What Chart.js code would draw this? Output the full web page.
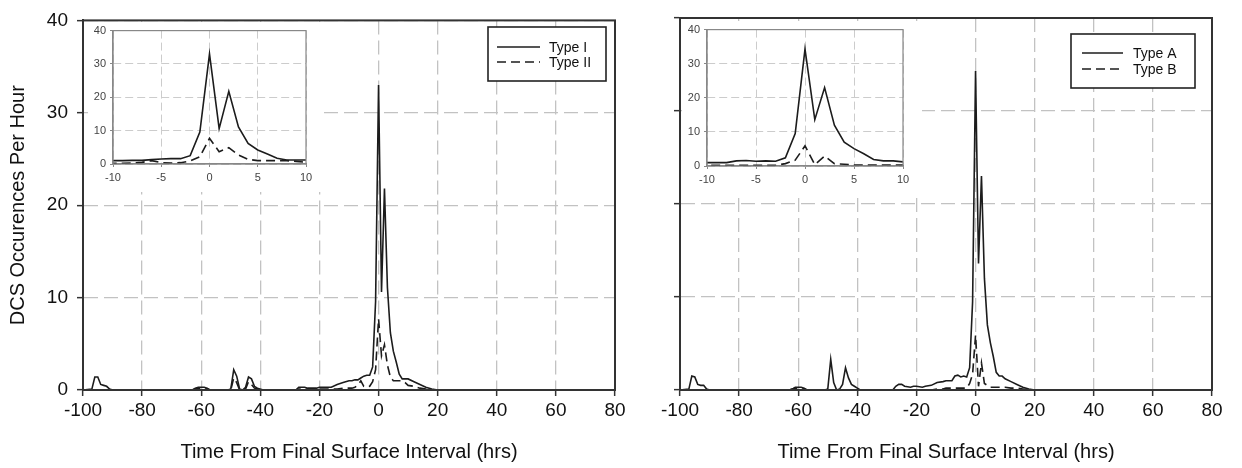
<!DOCTYPE html>
<html>
<head>
<meta charset="utf-8">
<script src="https://cdn.jsdelivr.net/npm/chart.js@4.4.1/dist/chart.umd.min.js"></script>
<style>
  html, body { margin: 0; padding: 0; background: #fff; }
  #wrap { position: relative; width: 1242px; height: 468px; overflow: hidden; }
  canvas { position: absolute; }
</style>
</head>
<body>
<div id="wrap">
  <canvas id="mainLeft" width="630" height="468" style="left:0;top:0;width:630px;height:468px"></canvas>
  <canvas id="mainRight" width="612" height="468" style="left:630px;top:0;width:612px;height:468px"></canvas>
  <canvas id="insetLeft" width="236" height="172" style="left:88px;top:20px;width:236px;height:172px"></canvas>
  <canvas id="insetRight" width="240" height="176" style="left:682px;top:19px;width:240px;height:176px"></canvas>
</div>
<script>
// hours from final surface interval (null = no data in that stretch)
const leftHours = [-100, -97, -96, -95, -94, -93, -92, -91, -90, -80, -68, -63, -62, -61, -60, -59, -58, -57,
  -51, -50, -49, -48, -47, -46, -45, -44, -43, -42, -41, -39, -36, -28, -27, -26, -25, -24, -21, -20, -19,
  -16, -14, -12, -10, -9, -8, -7, -6, -5, -4, -3, -2, -1, 0, 1, 2, 3, 4, 5, 6, 7, 8, 9, 10, 12, 14, 16, 18, 20, 30, 43];
const typeI = [0, 0.1, 1.4, 1.4, 0.6, 0.5, 0.4, 0.1, 0, null, 0, 0, 0.2, 0.3, 0.3, 0.3, 0.2, 0,
  0, 0.1, 2.2, 1.5, 0.1, 0, 0.3, 1.4, 1.2, 0.4, 0.2, 0, 0, 0, 0.3, 0.3, 0.3, 0.2, 0.2, 0.3, 0.3,
  0.3, 0.6, 0.8, 1.0, 1.0, 1.1, 1.1, 1.3, 1.5, 1.6, 1.6, 2.5, 9.6, 33, 10.6, 21.8, 11.1, 6.2, 4.2, 3.0, 1.7, 1.2, 1.2, 1.2, 0.9, 0.6, 0.3, 0.1, 0, 0, 0];
const typeII = [0, 0, 0, 0, 0, 0, 0, 0, 0, null, 0, 0, 0.1, 0.2, 0.2, 0.2, 0.1, 0,
  0, 0, 1.3, 0.8, 0, 0, 0.1, 0.9, 0.6, 0.2, 0.1, 0, 0, 0, 0.1, 0.1, 0.1, 0.1, 0.1, 0.1, 0.1,
  0.1, 0.1, 0.2, 0.2, 0.2, 0.3, 0.5, 1.0, 0.4, 0.3, 0.4, 0.9, 2.2, 7.7, 3.7, 4.9, 2.7, 1.4, 1.0, 1.0, 1.0, 1.0, 0.8, 0.5, 0.4, 0.2, 0.1, 0, 0, 0, 0];

const rightHours = [-100, -97, -96, -95, -94, -93, -92, -91, -90, -80, -68, -63, -62, -61, -60, -59, -58, -57,
  -51, -50, -49, -48, -47, -46, -45, -44, -43, -42, -41, -40, -39, -28, -27, -26, -25, -24, -22, -21, -20,
  -18, -17, -15, -13, -11, -10, -9, -8, -7, -6, -5, -4, -3, -2, -1, 0, 1, 2, 3, 4, 5, 6, 7, 8, 9, 10, 12, 14, 16, 18, 20, 30, 47];
const typeA = [0, 0.1, 1.5, 1.4, 0.6, 0.5, 0.5, 0.1, 0, null, 0, 0, 0.1, 0.3, 0.3, 0.3, 0.2, 0,
  0, 0.1, 3.3, 0.8, 0, 0.1, 0.6, 2.4, 1.3, 0.6, 0.4, 0.2, 0, 0, 0.4, 0.6, 0.6, 0.4, 0.3, 0.4, 0.4,
  0.3, 0.4, 0.5, 0.8, 0.9, 1.0, 1.0, 1.0, 1.5, 1.6, 1.4, 1.5, 1.4, 2.4, 9.5, 34.3, 13.6, 23, 12, 7, 5.1, 3.6, 1.9, 1.5, 1.5, 1.2, 0.9, 0.6, 0.3, 0.1, 0, 0, 0];
const typeB = [0, 0, 0, 0, 0, 0, 0, 0, 0, null, 0, 0, 0.1, 0.2, 0.2, 0.2, 0.1, 0,
  0, 0, 0, 0, 0, 0, 0, 0, 0, 0, 0, 0, 0, 0, 0, 0, 0, 0, 0, 0, 0,
  0, 0, 0, 0.1, 0.1, 0.2, 0.2, 0.2, 0.2, 0.2, 0.2, 0.2, 0.2, 0.7, 1.7, 5.9, 0.4, 2.9, 0.7, 0.5, 0.3, 0.3, 0.3, 0.3, 0.3, 0.3, 0.2, 0.2, 0.1, 0, 0, 0, 0];

const mainXTicks = { min: -100, max: 80, step: 20 };
const mainYTicks = { min: 0, max: 40, step: 10 };
const insetXTicks = { min: -10, max: 10, step: 5 };

Chart.defaults.font.family = "'Liberation Sans', Arial, sans-serif";

const INK = '#1c1c1c';

const points = (hours, vals) => hours.map((h, i) => ({ x: h, y: vals[i] }));

const series = (label, hours, vals, dash) => ({
  label: label,
  data: points(hours, vals),
  borderColor: INK,
  borderWidth: 1.6,
  borderDash: dash,
  pointRadius: 0,
  tension: 0,
  spanGaps: false,
  fill: false
});

// white card behind the insets (starts a little low so the main frame stays visible)
const paper = {
  id: 'paper',
  beforeDraw(chart, args, opts) {
    const ctx = chart.ctx;
    const top = opts.top || 0;
    ctx.save();
    ctx.fillStyle = '#fff';
    ctx.fillRect(0, top, chart.width, chart.height - top);
    ctx.restore();
  }
};

// closed box round the plot area
const frame = {
  id: 'frame',
  afterDatasetsDraw(chart, args, opts) {
    const a = chart.chartArea;
    const ctx = chart.ctx;
    ctx.save();
    ctx.strokeStyle = opts.color;
    ctx.lineWidth = opts.width;
    ctx.strokeRect(a.left, a.top, a.right - a.left, a.bottom - a.top);
    ctx.restore();
  }
};

// boxed legend inside the plot, like the original figure
const boxLegend = {
  id: 'boxLegend',
  afterDraw(chart, args, opts) {
    if (!opts.box) return;
    const ctx = chart.ctx;
    const [x, y, w, h] = opts.box;
    ctx.save();
    ctx.fillStyle = '#fff';
    ctx.fillRect(x, y, w, h);
    ctx.strokeStyle = '#222';
    ctx.lineWidth = 1.6;
    ctx.strokeRect(x, y, w, h);
    ctx.font = opts.font;
    ctx.textBaseline = 'middle';
    chart.data.datasets.forEach((ds, i) => {
      const ry = y + opts.firstRow + i * opts.rowGap;
      ctx.beginPath();
      ctx.setLineDash(ds.borderDash || []);
      ctx.lineWidth = ds.borderWidth;
      ctx.strokeStyle = ds.borderColor;
      ctx.moveTo(x + opts.sampleX, ry);
      ctx.lineTo(x + opts.sampleX + opts.sampleLen, ry);
      ctx.stroke();
      ctx.setLineDash([]);
      ctx.fillStyle = '#111';
      ctx.fillText(ds.label, x + opts.textX, ry + 1);
    });
    ctx.restore();
  }
};

const mainPanel = (id, hours, a, b, names, yAxisWidth, rightPad, showYLabels, legend) => {
  const axisFont = { size: 19 };
  return new Chart(document.getElementById(id), {
    type: 'line',
    data: {
      datasets: [
        series(names[0], hours, a, []),
        series(names[1], hours, b, [9, 5])
      ]
    },
    options: {
      responsive: false,
      maintainAspectRatio: false,
      animation: false,
      layout: { padding: { top: 18, right: rightPad, left: 0, bottom: 0 } },
      plugins: {
        legend: { display: false },
        tooltip: { enabled: false },
        frame: { color: '#333', width: 2 },
        boxLegend: legend
      },
      scales: {
        x: {
          type: 'linear',
          min: mainXTicks.min,
          max: mainXTicks.max,
          ticks: { stepSize: mainXTicks.step, color: '#111', font: axisFont, padding: 3, maxRotation: 0 },
          grid: { color: '#c2c2c2', lineWidth: 1.3, tickLength: 6, tickColor: '#333', tickWidth: 1.5 },
          border: { color: '#333', width: 2, dash: [14, 6] },
          title: {
            display: true,
            text: 'Time From Final Surface Interval (hrs)',
            color: '#111',
            font: { size: 20 },
            padding: { top: 0, bottom: 4 }
          },
          afterFit: (s) => { s.height = 78; }
        },
        y: {
          min: mainYTicks.min,
          max: mainYTicks.max,
          ticks: { stepSize: mainYTicks.step, color: '#111', font: axisFont, padding: 9, display: showYLabels },
          grid: { color: '#c2c2c2', lineWidth: 1.3, tickLength: 6, tickColor: '#333', tickWidth: 1.5 },
          border: { color: '#333', width: 2, dash: [14, 6] },
          title: {
            display: showYLabels,
            text: 'DCS Occurences Per Hour',
            color: '#111',
            font: { size: 20 },
            padding: { top: 6, bottom: 0 }
          },
          afterFit: (s) => { s.width = yAxisWidth; }
        }
      }
    },
    plugins: [frame, boxLegend]
  });
};

const insetPanel = (id, hours, a, b, paperTop, rightPad, xAxisHeight) => {
  const f = { size: 11 };
  return new Chart(document.getElementById(id), {
    type: 'line',
    data: {
      datasets: [
        series('a', hours, a, []),
        series('b', hours, b, [9, 5])
      ]
    },
    options: {
      responsive: false,
      maintainAspectRatio: false,
      animation: false,
      layout: { padding: { top: 10, right: rightPad, left: 0, bottom: 0 } },
      plugins: {
        legend: { display: false },
        tooltip: { enabled: false },
        paper: { top: paperTop },
        frame: { color: '#888', width: 1.2 }
      },
      scales: {
        x: {
          type: 'linear',
          min: insetXTicks.min,
          max: insetXTicks.max,
          ticks: { stepSize: insetXTicks.step, color: '#444', font: f, padding: 4, maxRotation: 0 },
          grid: { color: '#cccccc', lineWidth: 1, tickLength: 3, tickColor: '#888' },
          border: { color: '#888', width: 1.2, dash: [8, 4] },
          afterFit: (s) => { s.height = xAxisHeight; }
        },
        y: {
          min: mainYTicks.min,
          max: mainYTicks.max,
          ticks: { stepSize: mainYTicks.step, color: '#444', font: f, padding: 4 },
          grid: { color: '#cccccc', lineWidth: 1, tickLength: 3, tickColor: '#888' },
          border: { color: '#888', width: 1.2, dash: [8, 4] },
          afterFit: (s) => { s.width = 25; }
        }
      }
    },
    plugins: [paper, frame]
  });
};

mainPanel('mainLeft', leftHours, typeI, typeII, ['Type I', 'Type II'], 83, 15, true,
  { box: [488, 27, 118, 54], firstRow: 20, rowGap: 15, sampleX: 9, sampleLen: 43, textX: 61, font: '14px "Liberation Sans", Arial, sans-serif' });
mainPanel('mainRight', rightHours, typeA, typeB, ['Type A', 'Type B'], 50, 30, false,
  { box: [441, 34, 124, 54], firstRow: 19, rowGap: 16, sampleX: 11, sampleLen: 41, textX: 62, font: '14px "Liberation Sans", Arial, sans-serif' });

insetPanel('insetLeft', leftHours, typeI, typeII, 2, 18, 28);
insetPanel('insetRight', rightHours, typeA, typeB, 2, 19, 29);
</script>
</body>
</html>
